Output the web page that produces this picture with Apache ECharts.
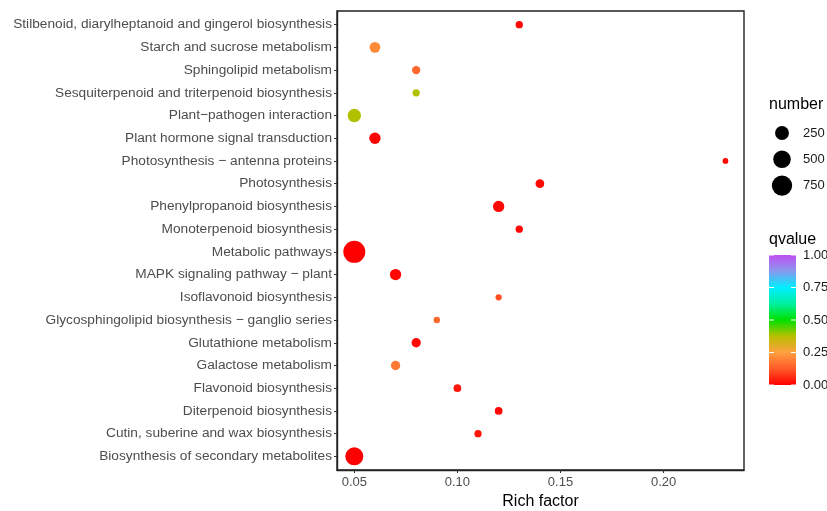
<!DOCTYPE html>
<html>
<head>
<meta charset="utf-8">
<script src="https://cdn.jsdelivr.net/npm/echarts@6/dist/echarts.min.js"></script>
<style>
  html, body { margin: 0; padding: 0; background: #fff; }
  #chart { width: 827px; height: 511px; }
</style>
</head>
<body>
<div id="chart"></div>
<script>
// pathways, bottom to top
var pathways = [
  'Biosynthesis of secondary metabolites',
  'Cutin, suberine and wax biosynthesis',
  'Diterpenoid biosynthesis',
  'Flavonoid biosynthesis',
  'Galactose metabolism',
  'Glutathione metabolism',
  'Glycosphingolipid biosynthesis \u2212 ganglio series',
  'Isoflavonoid biosynthesis',
  'MAPK signaling pathway \u2212 plant',
  'Metabolic pathways',
  'Monoterpenoid biosynthesis',
  'Phenylpropanoid biosynthesis',
  'Photosynthesis',
  'Photosynthesis \u2212 antenna proteins',
  'Plant hormone signal transduction',
  'Plant\u2212pathogen interaction',
  'Sesquiterpenoid and triterpenoid biosynthesis',
  'Sphingolipid metabolism',
  'Starch and sucrose metabolism',
  'Stilbenoid, diarylheptanoid and gingerol biosynthesis'
]
var richFactor = [0.05, 0.11, 0.12, 0.10, 0.07, 0.08, 0.09, 0.12, 0.07, 0.05,
                  0.13, 0.12, 0.14, 0.23, 0.06, 0.05, 0.08, 0.08, 0.06, 0.13]
var geneNumber = [539, 17, 23, 23, 59, 59, 7, 5, 127, 920,
                  17, 127, 44, 2, 127, 220, 17, 35, 104, 17]
var qvalue = [0.0, 0.03, 0.01, 0.03, 0.18, 0.01, 0.15, 0.11, 0.01, 0.0,
              0.01, 0.01, 0.01, 0.01, 0.0, 0.38, 0.38, 0.15, 0.21, 0.01]

var xTicks = [0.05, 0.10, 0.15, 0.20]
var sizeBreaks = [250, 500, 750]
var qTicks = [0, 0.25, 0.5, 0.75, 1]
var qColors = ['#FF0000', '#FF5A28', '#FFA040', '#B8C000', '#00E000', '#00F0A0', '#00EEFF', '#8899EE', '#C050F0']

// diameter in px from gene number
function sizeOf(n) {
  return 5 + 0.56 * Math.sqrt(n)
}

var gridLeft = 337, gridTop = 11, gridRight = 83, gridBottom = 41
var barLeft = 769, barTop = 255, barW = 27, barH = 130
var font = '"Liberation Sans", Arial'

var data = pathways.map(function (p, i) {
  return [richFactor[i], i, geneNumber[i], qvalue[i]]
})

var graphics = [
  { type: 'text', left: 769, top: 97, style: { text: 'number', font: '16px ' + font, fill: '#000' } },
  { type: 'text', left: 769, top: 232, style: { text: 'qvalue', font: '16px ' + font, fill: '#000' } },
  {
    type: 'rect', shape: { x: barLeft, y: barTop, width: barW, height: barH },
    style: {
      fill: new echarts.graphic.LinearGradient(0, 1, 0, 0, qColors.map(function (c, i) {
        return { offset: i / (qColors.length - 1), color: c }
      }))
    }
  }
]
sizeBreaks.forEach(function (n, i) {
  var cy = 133 + i * 26.3
  graphics.push({
    type: 'circle', shape: { cx: 782, cy: cy, r: sizeOf(n) / 2 }, style: { fill: '#000' }
  })
  graphics.push({
    type: 'text', x: 803, y: cy, style: { text: String(n), font: '13px ' + font, fill: '#1a1a1a', verticalAlign: 'middle' }
  })
})
qTicks.forEach(function (q) {
  var y = barTop + barH - q * barH
  graphics.push({ type: 'line', z: 100, shape: { x1: barLeft, y1: y, x2: barLeft + 5, y2: y }, style: { stroke: '#fff', lineWidth: 1 } })
  graphics.push({ type: 'line', z: 100, shape: { x1: barLeft + barW - 5, y1: y, x2: barLeft + barW, y2: y }, style: { stroke: '#fff', lineWidth: 1 } })
  graphics.push({
    type: 'text', x: 803, y: y, style: { text: q.toFixed(2), font: '13px ' + font, fill: '#1a1a1a', verticalAlign: 'middle' }
  })
})

var chart = echarts.init(document.getElementById('chart'))
chart.setOption({
  backgroundColor: '#fff',
  animation: false,
  textStyle: { fontFamily: font },
  grid: {
    left: gridLeft, top: gridTop, right: gridRight, bottom: gridBottom,
    outerBoundsMode: 'none',
    show: true, borderColor: '#222', borderWidth: 1.4
  },
  xAxis: {
    type: 'value',
    min: 0.0416,
    max: 0.239,
    name: 'Rich factor',
    nameLocation: 'middle',
    nameGap: 24,
    nameTextStyle: { fontSize: 16, color: '#000' },
    axisLine: { show: true, onZero: false, lineStyle: { color: '#222', width: 1.4 } },
    axisTick: { show: true, length: 3, customValues: xTicks, lineStyle: { color: '#333' } },
    axisLabel: { customValues: xTicks, fontSize: 13, color: '#4d4d4d', margin: 6,
      formatter: function (v) { return v.toFixed(2) } },
    splitLine: { show: false }
  },
  yAxis: {
    type: 'value',
    min: -0.6,
    max: pathways.length - 0.4,
    axisLine: { show: true, onZero: false, lineStyle: { color: '#222', width: 1.4 } },
    axisTick: { show: true, length: 3, customValues: pathways.map(function (p, i) { return i }), lineStyle: { color: '#333' } },
    axisLabel: { customValues: pathways.map(function (p, i) { return i }), fontSize: 13.7, color: '#4d4d4d', margin: 5,
      formatter: function (v) { return pathways[Math.round(v)] } },
    splitLine: { show: false }
  },
  visualMap: {
    type: 'continuous',
    show: false,
    seriesIndex: 0,
    dimension: 3,
    min: 0,
    max: 1,
    inRange: { color: qColors }
  },
  graphic: graphics,
  series: [{
    type: 'scatter',
    data: data,
    symbol: 'circle',
    symbolSize: function (v) { return sizeOf(v[2]) },
    itemStyle: { opacity: 1 }
  }]
})
</script>
</body>
</html>
